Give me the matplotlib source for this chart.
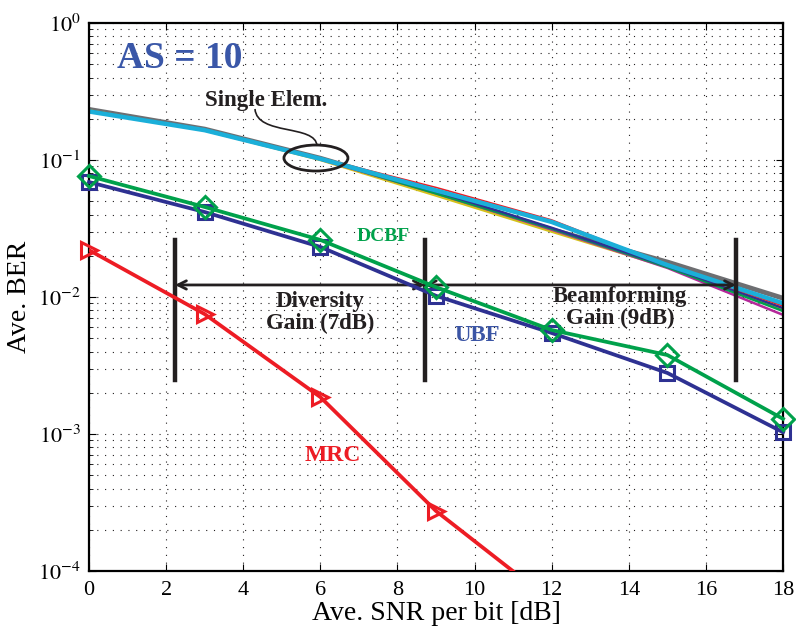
import numpy as np
import matplotlib
matplotlib.use('Agg')
import matplotlib.pyplot as plt
from matplotlib.patches import Ellipse, PathPatch
from matplotlib.path import Path

plt.rcParams['font.family'] = 'Liberation Serif'
plt.rcParams['mathtext.fontset'] = 'stix'

# ---- data ----
snr = [0, 3, 6, 9, 12, 15, 18]
mrc_snr = [0, 3, 6, 9, 12]
ber_mrc = [0.022, 0.0075, 0.00186, 0.000274, 6.0e-5]
ber_ubf = [0.069, 0.0417, 0.0232, 0.0102, 0.00546, 0.00279, 0.00103]
ber_dcbf = [0.0764, 0.0454, 0.0261, 0.0118, 0.00574, 0.00377, 0.00129]

# single element curves (several runs, nearly overlapping)
single_gray = [0.234, 0.168, 0.103, 0.058, 0.031, 0.0180, 0.0098]
single_yellow = [0.230, 0.165, 0.100, 0.055, 0.0300, 0.0165, 0.0081]
single_magenta = [0.229, 0.166, 0.101, 0.057, 0.0310, 0.0163, 0.0074]
single_green = [0.229, 0.166, 0.102, 0.057, 0.0315, 0.0165, 0.0079]
single_blue = [0.228, 0.166, 0.102, 0.059, 0.032, 0.0168, 0.0083]
single_red = [0.226, 0.165, 0.103, 0.063, 0.0365, 0.0170, 0.0086]
single_cyan = [0.226, 0.165, 0.102, 0.060, 0.0353, 0.0171, 0.0090]

yticks = [1e-4, 1e-3, 1e-2, 1e-1, 1e0]
ytick_labels = ['$10^{-4}$', '$10^{-3}$', '$10^{-2}$', '$10^{-1}$', '$10^{0}$']
xticks = list(range(0, 19, 2))

# gain markers
bar_x = [2.23, 8.71, 16.78]
bar_lo, bar_hi = 0.00248, 0.026
arrow_y = 0.01224

fig = plt.figure(figsize=(7.96, 6.35), dpi=100)
ax = fig.add_axes([0.1118, 0.1008, 0.8719, 0.863])

ax.plot(snr, single_gray, color='#6d6e71', lw=3.5)
ax.plot(snr, single_yellow, color='#d4c21a', lw=1.8)
ax.plot(snr, single_magenta, color='#b5289a', lw=1.8)
ax.plot(snr, single_green, color='#00a14b', lw=1.8)
ax.plot(snr, single_blue, color='#2e3192', lw=1.8)
ax.plot(snr, single_red, color='#ed1c24', lw=1.2)
ax.plot(snr, single_cyan, color='#1bafd9', lw=3.2)

ax.plot(snr, ber_ubf, color='#2e3192', lw=2.7, marker='s', ms=10,
        mfc='none', mec='#2e3192', mew=2.2, clip_on=False, zorder=4)
ax.plot(snr, ber_dcbf, color='#00a14b', lw=2.7, marker='D', ms=11,
        mfc='none', mec='#00a14b', mew=2.2, clip_on=False, zorder=4)
ax.plot(mrc_snr, ber_mrc, color='#ed1c24', lw=2.7, zorder=4)
ax.plot(mrc_snr[:4], ber_mrc[:4], ls='none', marker='>', ms=12,
        mfc='none', mec='#ed1c24', mew=2.2, clip_on=False, zorder=4)

for bx in bar_x:
    ax.plot([bx, bx], [bar_lo, bar_hi], color='#231f20', lw=3.2)
for x0, x1 in [(bar_x[0], bar_x[1]), (bar_x[1], bar_x[2])]:
    ax.annotate('', xy=(x1, arrow_y), xytext=(x0, arrow_y),
                arrowprops=dict(arrowstyle='<->,head_length=0.6,head_width=0.3',
                                color='#231f20', lw=2.0, shrinkA=0, shrinkB=0))

ax.set_yscale('log')
ax.set_xlim(0, 18)
ax.set_ylim(1e-4, 1e0)
ax.set_xticks(xticks)
ax.set_yticks(yticks)
ax.set_yticklabels(ytick_labels)
ax.tick_params(which='both', direction='in', top=True, right=True)
ax.tick_params(axis='x', labelsize=16, pad=7)
ax.tick_params(axis='y', labelsize=16, pad=6)
ax.tick_params(which='major', length=5)
ax.tick_params(which='minor', length=3)
ax.grid(True, which='both', linestyle=(0, (1, 6)), color='#231f20', lw=0.8)
for s in ax.spines.values():
    s.set_linewidth(1.6)

ax.set_xlabel('Ave. SNR per bit [dB]', fontsize=20, labelpad=1)
ax.set_ylabel('Ave. BER', fontsize=20, labelpad=4)

# annotations
ax.text(0.131, 0.936, 'AS = 10', transform=ax.transAxes, fontsize=27,
        fontweight='bold', color='#3a57a8', ha='center', va='center')
ax.text(0.255, 0.859, 'Single Elem.', transform=ax.transAxes, fontsize=16.5,
        fontweight='bold', color='#231f20', ha='center', va='center')
ax.text(0.424, 0.611, 'DCBF', transform=ax.transAxes, fontsize=14,
        fontweight='bold', color='#00a14b', ha='center', va='center')
ax.text(0.559, 0.429, 'UBF', transform=ax.transAxes, fontsize=16.5,
        fontweight='bold', color='#3b55a5', ha='center', va='center')
ax.text(0.352, 0.21, 'MRC', transform=ax.transAxes, fontsize=17,
        fontweight='bold', color='#ed1c24', ha='center', va='center')
ax.text(0.333, 0.471, 'Diversity\nGain (7dB)', transform=ax.transAxes,
        fontsize=16.5, fontweight='bold', color='#231f20', ha='center',
        va='center', linespacing=1.05)
ax.text(0.765, 0.48, 'Beamforming\nGain (9dB)', transform=ax.transAxes,
        fontsize=16.5, fontweight='bold', color='#231f20', ha='center',
        va='center', linespacing=1.05)

ax.add_patch(Ellipse((0.327, 0.7536), 0.0922, 0.0474, transform=ax.transAxes,
                     fill=False, edgecolor='#231f20', lw=2.0, zorder=5))


def frac(px, py):
    return ((px - 89) / 694.0, (571 - py) / 548.0)


verts = [frac(255, 109), frac(257, 136), frac(316, 124), frac(317, 146)]
conn = Path(verts, [Path.MOVETO, Path.CURVE4, Path.CURVE4, Path.CURVE4])
ax.add_patch(PathPatch(conn, transform=ax.transAxes, fill=False,
                       edgecolor='#231f20', lw=1.2))

fig.savefig('out.png', dpi=100)
